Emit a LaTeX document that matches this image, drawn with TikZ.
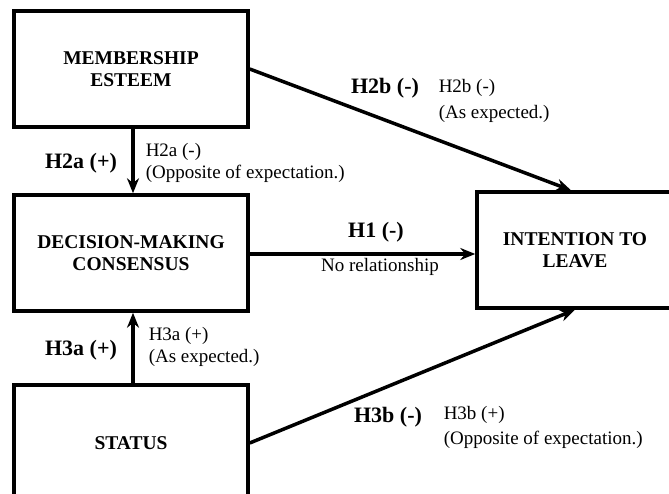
\documentclass[tikz,border=0pt]{standalone}
\usepackage{fontspec}
\setmainfont{Liberation Serif}
\usetikzlibrary{arrows.meta}

\begin{document}
\begin{tikzpicture}[x=1pt, y=-1pt, >={Stealth[length=15pt, width=12pt]}, line width=3.5pt,
	box/.style={draw, rectangle, minimum width=234pt, minimum height=116pt, align=center, font=\fontsize{19.5}{22}\selectfont\bfseries},
	hyp/.style={font=\fontsize{22}{26}\selectfont\bfseries, inner sep=1pt},
	res/.style={font=\fontsize{19}{22}\selectfont, align=left, anchor=west, inner sep=1pt}]
	% 画布大小
	\useasboundingbox (0,0) rectangle (669,494);
	\fill[white] (0,0) rectangle (669,494);
	
	% 四个变量框
	\node[box] (member) at (131,69) {MEMBERSHIP\\ESTEEM};
	\node[box] (decide) at (131,253) {DECISION-MAKING\\CONSENSUS};
	\node[box] (status) at (131,443) {STATUS};
	\node[box, minimum width=196pt] (leave) at (575,250) {INTENTION TO\\LEAVE};
	
	% 路径箭头
	\draw[->] ([xshift=2pt]member.south) -- ([xshift=2pt]decide.north);
	\draw[->] ([xshift=2pt]status.north) -- ([xshift=2pt]decide.south);
	\draw[->] ([yshift=-1pt]decide.east) -- ([yshift=-1pt]decide.east -| leave.west);
	\draw[->] (member.east) -- ([xshift=-4pt]leave.north);
	\draw[->] (status.east) -- (leave.south);
	
	% 假设标签
	\node[hyp] (h2a) at (81,163) {H2a (+)};
	\node[hyp] (h3a) at (81,350) {H3a (+)};
	\node[hyp] (h1) at (376,232) {H1 (-)};
	\node[hyp] (h2b) at (385,88) {H2b (-)};
	\node[hyp] (h3b) at (388,417) {H3b (-)};
	
	% 检验结果
	\node[res] (r2a) at (143,163) {H2a (-)\\(Opposite of expectation.)};
	\node[res] (r3a) at (146,347) {H3a (+)\\(As expected.)};
	\node[res, anchor=center] (r1) at (380,267) {No relationship};
	\node[res, font=\fontsize{19}{26}\selectfont] (r2b) at (436,101) {H2b (-)\\(As expected.)};
	\node[res, font=\fontsize{19}{25}\selectfont] (r3b) at (441,427) {H3b (+)\\(Opposite of expectation.)};
\end{tikzpicture}
\end{document}
